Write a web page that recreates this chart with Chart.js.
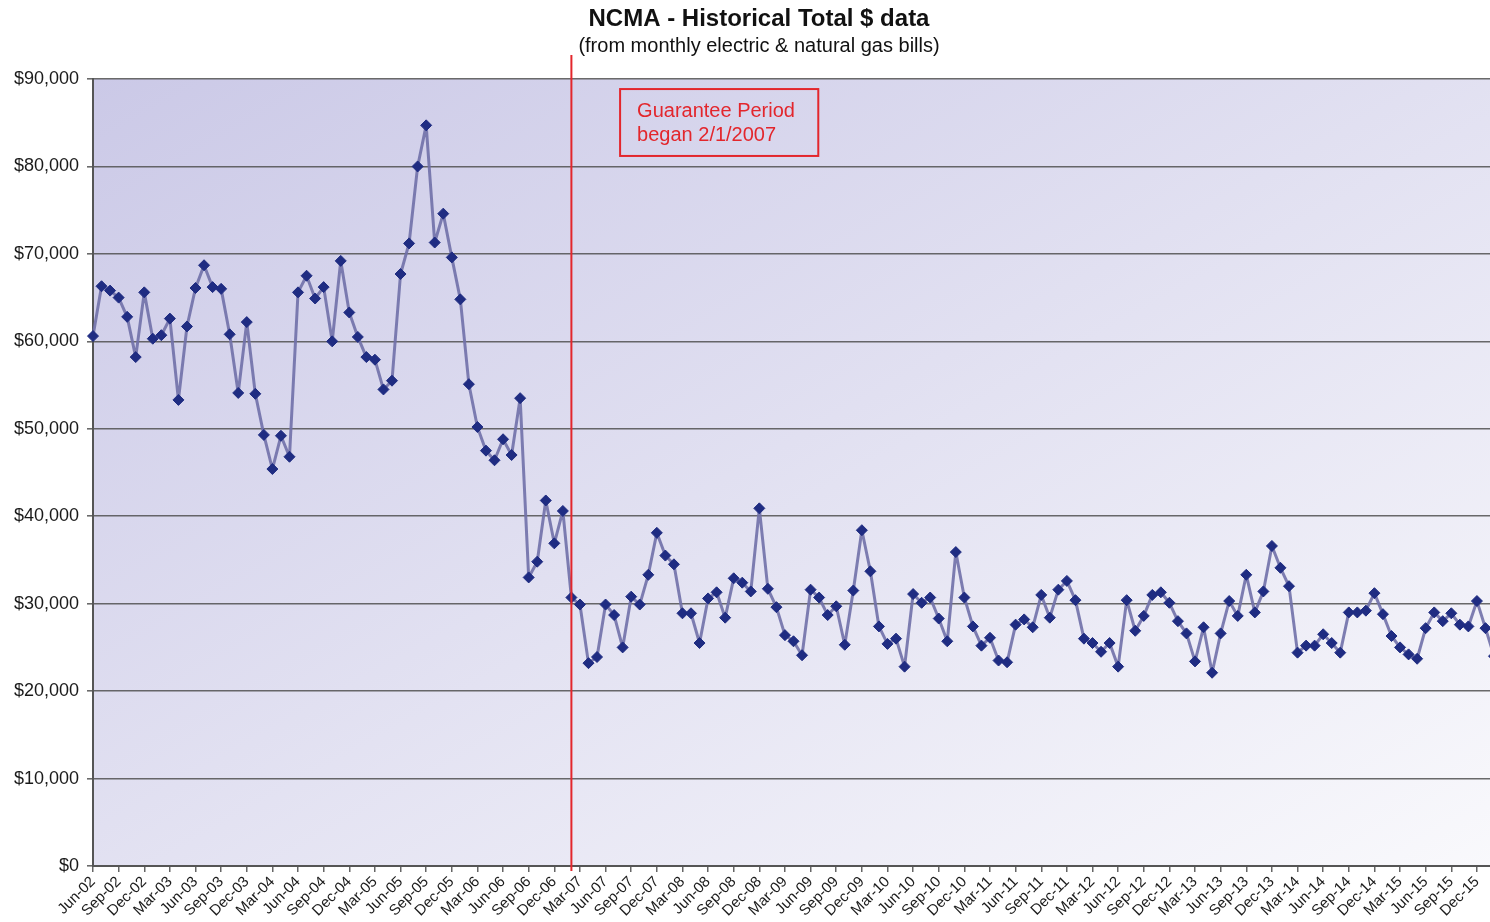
<!DOCTYPE html>
<html>
<head>
<meta charset="utf-8">
<title>NCMA - Historical Total $ data</title>
<script src="https://cdn.jsdelivr.net/npm/chart.js@4.4.1/dist/chart.umd.min.js"></script>
<style>
    html, body { margin: 0; padding: 0; background: #fff; overflow: hidden; }
    #wrap { position: relative; width: 1490px; height: 922px; overflow: hidden; }
</style>
</head>
<body>
<div id="wrap"><canvas id="chart" width="1500" height="922"></canvas></div>
<script>
// x-axis labels, one every 3 months starting Jun-02
const tickLabels = [
    'Jun-02', 'Sep-02', 'Dec-02', 'Mar-03', 'Jun-03', 'Sep-03', 'Dec-03', 'Mar-04', 'Jun-04', 'Sep-04', 'Dec-04',
    'Mar-05', 'Jun-05', 'Sep-05', 'Dec-05', 'Mar-06', 'Jun-06', 'Sep-06', 'Dec-06', 'Mar-07', 'Jun-07', 'Sep-07',
    'Dec-07', 'Mar-08', 'Jun-08', 'Sep-08', 'Dec-08', 'Mar-09', 'Jun-09', 'Sep-09', 'Dec-09', 'Mar-10', 'Jun-10',
    'Sep-10', 'Dec-10', 'Mar-11', 'Jun-11', 'Sep-11', 'Dec-11', 'Mar-12', 'Jun-12', 'Sep-12', 'Dec-12', 'Mar-13',
    'Jun-13', 'Sep-13', 'Dec-13', 'Mar-14', 'Jun-14', 'Sep-14', 'Dec-14', 'Mar-15', 'Jun-15', 'Sep-15', 'Dec-15'
];

// monthly total $ (electric + natural gas), Jun-02 .. Feb-16
const totalCost = [
    60600, 66300, 65800, 65000, 62800, 58200, 65600, 60300, 60700, 62600, 53300, 61700,
    66100, 68700, 66200, 66000, 60800, 54100, 62200, 54000, 49300, 45400, 49200, 46800,
    65600, 67500, 64900, 66200, 60000, 69200, 63300, 60500, 58200, 57900, 54500, 55500,
    67700, 71200, 80000, 84700, 71300, 74600, 69600, 64800, 55100, 50200, 47500, 46400,
    48800, 47000, 53500, 33000, 34800, 41800, 36900, 40600, 30700, 29900, 23200, 23900,
    29900, 28700, 25000, 30800, 29900, 33300, 38100, 35500, 34500, 28900, 28900, 25500,
    30600, 31300, 28400, 32900, 32400, 31400, 40900, 31700, 29600, 26400, 25700, 24100,
    31600, 30700, 28700, 29700, 25300, 31500, 38400, 33700, 27400, 25400, 26000, 22800,
    31100, 30100, 30700, 28300, 25700, 35900, 30700, 27400, 25200, 26100, 23500, 23300,
    27600, 28200, 27300, 31000, 28400, 31600, 32600, 30400, 26000, 25500, 24500, 25500,
    22800, 30400, 26900, 28600, 31000, 31300, 30100, 28000, 26600, 23400, 27300, 22100,
    26600, 30300, 28600, 33300, 29000, 31400, 36600, 34100, 32000, 24400, 25200, 25200,
    26500, 25500, 24400, 29000, 29000, 29200, 31200, 28800, 26300, 25000, 24200, 23700,
    27200, 29000, 28000, 28900, 27600, 27400, 30300, 27200, 24000
];

const guaranteeIndex = 56;   // Feb-07
const noteLines = ['Guarantee Period', 'began 2/1/2007'];

const plotBackground = {
    id: 'plotBackground',
    beforeDraw(chart) {
        const { ctx, chartArea: a } = chart;
        const w = a.right - a.left, h = a.bottom - a.top;
        // 45 degree shading: lavender top-left fading to white bottom-right
        const k = 2 * w * h / (w * w + h * h);
        const g = ctx.createLinearGradient(a.left, a.top, a.left + h * k, a.top + w * k);
        g.addColorStop(0, '#cbc9e7');
        g.addColorStop(1, '#f9f9fc');
        ctx.save();
        ctx.fillStyle = g;
        ctx.fillRect(a.left, a.top, w, h);
        ctx.restore();
    }
};

const guaranteeMarker = {
    id: 'guaranteeMarker',
    afterDatasetsDraw(chart) {
        const { ctx, scales: { x, y } } = chart;
        const lx = x.getPixelForValue(guaranteeIndex);
        ctx.save();
        ctx.strokeStyle = '#e3262c';
        ctx.lineWidth = 2;
        ctx.beginPath();
        ctx.moveTo(lx, 55);
        ctx.lineTo(lx, y.bottom + 5);
        ctx.stroke();

        // note box
        const bx0 = x.getPixelForValue(61.7), bx1 = x.getPixelForValue(84.9);
        const by0 = y.getPixelForValue(88850), by1 = y.getPixelForValue(81200);
        ctx.lineWidth = 2;
        ctx.strokeRect(bx0, by0, bx1 - bx0, by1 - by0);
        ctx.fillStyle = '#e3262c';
        ctx.font = '20px "Liberation Sans", Arial, sans-serif';
        ctx.textBaseline = 'middle';
        ctx.textAlign = 'left';
        ctx.fillText(noteLines[0], bx0 + 17, by0 + 22);
        ctx.fillText(noteLines[1], bx0 + 17, by0 + 46);
        ctx.restore();
    }
};

const headerText = {
    id: 'headerText',
    afterDraw(chart) {
        const { ctx } = chart;
        ctx.save();
        ctx.fillStyle = '#111';
        ctx.textAlign = 'center';
        ctx.textBaseline = 'middle';
        ctx.font = 'bold 24px "Liberation Sans", Arial, sans-serif';
        ctx.fillText('NCMA - Historical Total $ data', 759, 19);
        ctx.font = '20px "Liberation Sans", Arial, sans-serif';
        ctx.fillText('(from monthly electric & natural gas bills)', 759, 46);
        ctx.restore();
    }
};

new Chart(document.getElementById('chart'), {
    type: 'line',
    data: {
        datasets: [{
            label: 'Total $',
            data: totalCost.map((v, i) => ({ x: i, y: v })),
            borderColor: 'rgba(112, 112, 168, 0.9)',
            borderWidth: 3,
            borderJoinStyle: 'round',
            pointStyle: 'rectRot',
            pointRadius: 5.5,
            pointBackgroundColor: '#1f2c82',
            pointBorderColor: '#1f2c82',
            pointBorderWidth: 1,
            tension: 0,
            clip: false
        }]
    },
    options: {
        responsive: false,
        animation: false,
        layout: { autoPadding: false, padding: { top: 79, left: 0, right: 0, bottom: 0 } },
        scales: {
            x: {
                type: 'linear',
                min: 0,
                max: 164.7,
                afterBuildTicks: (scale) => {
                    scale.ticks = tickLabels.map((_, i) => ({ value: i * 3 }));
                },
                afterFit: (scale) => { scale.height = 56; },
                ticks: {
                    autoSkip: false,
                    maxRotation: 45,
                    minRotation: 45,
                    padding: 1,
                    color: '#1a1a1a',
                    font: { family: '"Liberation Sans", Arial, sans-serif', size: 15 },
                    callback: (value, index) => tickLabels[index]
                },
                grid: { drawOnChartArea: false, tickLength: 6, color: '#666', lineWidth: 1.5 },
                border: { color: '#555', width: 2 }
            },
            y: {
                min: 0,
                max: 90000,
                afterFit: (scale) => { scale.width = 93; },
                ticks: {
                    stepSize: 10000,
                    padding: 8,
                    color: '#1a1a1a',
                    font: { family: '"Liberation Sans", Arial, sans-serif', size: 18 },
                    callback: (v) => '$' + v.toLocaleString('en-US')
                },
                grid: { color: 'rgba(80, 80, 80, 0.85)', lineWidth: 1.6, tickLength: 6 },
                border: { color: '#555', width: 2 }
            }
        },
        plugins: {
            legend: { display: false },
            tooltip: { enabled: false }
        }
    },
    plugins: [plotBackground, guaranteeMarker, headerText]
});
</script>
</body>
</html>
